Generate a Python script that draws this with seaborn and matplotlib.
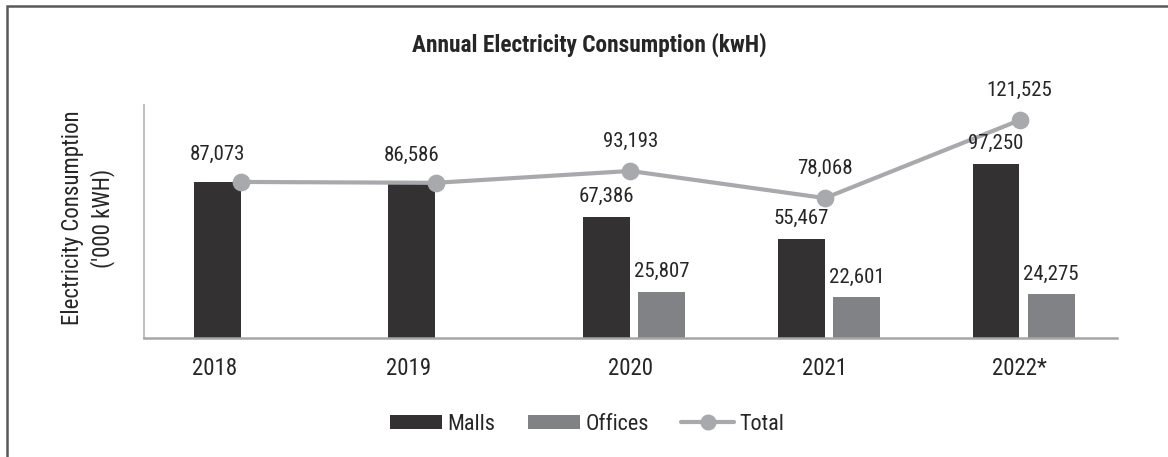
import numpy as np
import pandas as pd
import seaborn as sns
import matplotlib
matplotlib.use("Agg")
import matplotlib.pyplot as plt
from matplotlib.patches import Patch, Rectangle
from matplotlib.lines import Line2D

# ---- data ----
years = ["2018", "2019", "2020", "2021", "2022*"]
malls = [87073, 86586, 67386, 55467, 97250]
offices = [np.nan, np.nan, 25807, 22601, 24275]
total = [87073, 86586, 93193, 78068, 121525]

sns.set_theme(style="white")
plt.rcParams["font.family"] = ["Roboto Condensed", "DejaVu Sans"]

DARK = "#333132"
MID = "#808285"
LIGHT = "#A7A9AC"
TXT = "#262626"

long = pd.DataFrame({
    "Year": years * 2,
    "Segment": ["Malls"] * len(years) + ["Offices"] * len(years),
    "Value": malls + offices,
}).dropna()

fig = plt.figure(figsize=(11.68, 4.57), dpi=100)
ax = fig.add_axes([143.5 / 1168, 1 - 338 / 457, (1117 - 143.5) / 1168, (338 - 105) / 457])

sns.barplot(data=long, x="Year", y="Value", hue="Segment", order=years,
            hue_order=["Malls", "Offices"], palette=[DARK, MID],
            width=0.566, gap=0.148, saturation=1, legend=False, ax=ax,
            edgecolor="none", linewidth=0)

shift = 0.02
for cont in ax.containers:
    for p in cont.patches:
        p.set_x(p.get_x() + shift)

sns.pointplot(x=years, y=total, order=years, color=LIGHT, markers="o",
              linestyles="-", markersize=10.5, linewidth=3.0, ax=ax,
              errorbar=None)

has_off = [not np.isnan(v) for v in offices]
for ci, cont in enumerate(ax.containers):
    for p in cont.patches:
        h = p.get_height()
        if np.isnan(h) or h == 0:
            continue
        xc = p.get_x() + p.get_width() / 2
        idx = int(round(xc))
        pad = 11 if has_off[idx] else 18
        ax.annotate(f"{h:,.0f}", (xc, h), xytext=(0, pad), textcoords="offset pixels",
                    ha="center", va="bottom", fontsize=15, color=TXT)

for i, t in enumerate(total):
    if has_off[i]:
        ax.annotate(f"{t:,.0f}", (i, t), xytext=(0, 20), textcoords="offset pixels",
                    ha="center", va="bottom", fontsize=15, color=TXT)

ax.set_xlim(-0.5, 4.5)
ax.set_ylim(0, 130000)
ax.set_yticks([])
ax.set_xlabel("")
ax.set_ylabel("")

tick_pos = []
for i in range(len(years)):
    if has_off[i]:
        tick_pos.append(i)
    else:
        p = ax.containers[0].patches[i]
        tick_pos.append(p.get_x() + p.get_width() / 2 - 0.015)
ax.set_xticks(tick_pos)
ax.set_xticklabels(years, fontsize=16.5, color=TXT)
ax.tick_params(axis="x", length=0, pad=14)

for side in ["top", "right"]:
    ax.spines[side].set_visible(False)
ax.spines["left"].set_color("#BFBFBF")
ax.spines["left"].set_linewidth(1.5)
ax.spines["bottom"].set_color("#A6A6A6")
ax.spines["bottom"].set_linewidth(1.8)

fig.text(589 / 1168, 1 - 52 / 457, "Annual Electricity Consumption (kwH)",
         ha="center", va="baseline", fontsize=16.8, fontweight="bold", color=TXT)
fig.text(88 / 1168, 1 - 218 / 457, "Electricity Consumption\n('000 kWH)", rotation=90,
         ha="center", va="center", fontsize=16.5, color=TXT, linespacing=1.3,
         multialignment="center")

handles = [Patch(facecolor=DARK, edgecolor="none"),
           Patch(facecolor=MID, edgecolor="none"),
           Line2D([0], [0], color=LIGHT, lw=3.0, marker="o", markersize=10.5)]
fig.legend(handles, ["Malls", "Offices", "Total"], loc="center",
           bbox_to_anchor=(587 / 1168, 1 - 424 / 457), ncol=3, frameon=False,
           fontsize=16, handlelength=2.35, handleheight=0.58, handletextpad=0.25,
           columnspacing=1.45, labelcolor=TXT)

fig.patches.append(Rectangle((6.5 / 1168, -0.2), 1.5, 1.2 - 5.5 / 457,
                             transform=fig.transFigure, fill=False,
                             edgecolor="#595959", linewidth=1.8))

fig.savefig("out.png", dpi=100)
